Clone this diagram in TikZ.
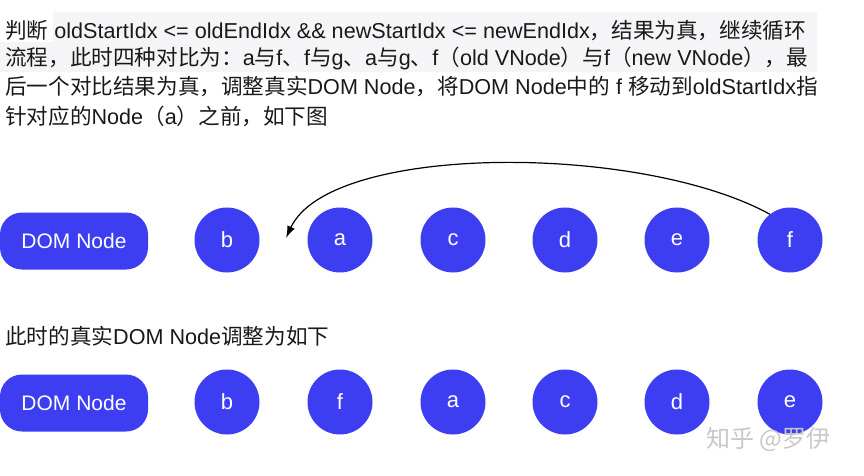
\documentclass[tikz,border=0pt]{standalone}
\usepackage{fontspec}
\setmainfont{Liberation Sans}
\newfontfamily\cjk{Noto Sans CJK SC}
\usetikzlibrary{arrows.meta}
\newcommand\zh[1]{{\cjk #1}}
\definecolor{nodeblue}{RGB}{61,62,242}
\definecolor{hlgrey}{RGB}{245,245,247}
\definecolor{wmgrey}{RGB}{200,200,200}
\tikzset{
  txt/.style={anchor=west, inner sep=0pt, font=\fontsize{21.6}{26}\selectfont, text=black!90},
  domnode/.style={fill=nodeblue, draw=none, rounded corners=22pt, minimum width=148pt, minimum height=57pt, text=white, font=\fontsize{21}{25}\selectfont},
  vnode/.style={circle, fill=nodeblue, draw=none, minimum size=65pt, inner sep=0pt, text=white, font=\fontsize{22}{26}\selectfont},
  movearrow/.style={draw=black, line width=1.2pt, -{Latex[length=12pt,width=8pt]}}
}
\begin{document}
\begin{tikzpicture}[x=1pt,y=-1pt]
\useasboundingbox (0,0) rectangle (864,475);
% highlight behind the first lines
\fill[hlgrey] (53,12) -- (817,12) -- (817,72) -- (0,72) -- (0,42) -- (53,42) -- cycle;
% description text
\node[txt] (l1) at (5,31) {\zh{判断} oldStartIdx <= oldEndIdx \&\& newStartIdx <= newEndIdx\zh{，结果为真，继续循环}};
\node[txt] (l2) at (5,58) {\zh{流程，此时四种对比为：}a\zh{与}f\zh{、}f\zh{与}g\zh{、}a\zh{与}g\zh{、}f\zh{（}old VNode\zh{）与}f\zh{（}new VNode\zh{），最}};
\node[txt] (l3) at (5,87) {\zh{后一个对比结果为真，调整真实}DOM Node\zh{，将}DOM Node\zh{中的} f \zh{移动到}oldStartIdx\zh{指}};
\node[txt] (l4) at (5,116) {\zh{针对应的}Node\zh{（}a\zh{）之前，如下图}};
% first row
\node[domnode] (dom1) at (74,241) {DOM Node};
\node[vnode] (b1) at (227,240) {b};
\node[vnode] (a1) at (340,240) {a};
\node[vnode] (c1) at (453,240) {c};
\node[vnode] (d1) at (565,240) {d};
\node[vnode] (e1) at (677,240) {e};
\node[vnode] (f1) at (790,240) {f};
\coordinate (gap) at (286,238);
\draw[movearrow] (f1.128) .. controls (640,143) and (330,143) .. (gap);
% second text
\node[txt] (t2) at (5,336) {\zh{此时的真实}DOM Node\zh{调整为如下}};
% second row
\node[domnode] (dom2) at (74,403) {DOM Node};
\node[vnode] (b2) at (227,402) {b};
\node[vnode] (f2) at (340,402) {f};
\node[vnode] (a2) at (453,402) {a};
\node[vnode] (c2) at (565,402) {c};
\node[vnode] (d2) at (677,402) {d};
\node[vnode] (e2) at (790,402) {e};
% watermark
\node[anchor=west, inner sep=0pt, text=wmgrey, font=\cjk\fontsize{24}{28}\selectfont] (wm) at (706,439) {知乎 @罗伊};
\end{tikzpicture}
\end{document}
